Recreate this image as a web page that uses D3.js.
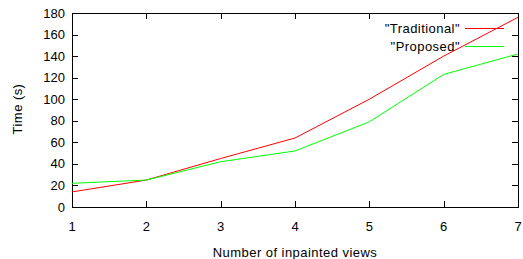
<!DOCTYPE html>
<html><head><meta charset="utf-8">
<script src="https://cdn.jsdelivr.net/npm/d3@7"></script>
<style>body{margin:0;background:#fff}svg{display:block}text{font-family:"Liberation Sans",Arial,sans-serif;font-size:13px;fill:#000}.lab{letter-spacing:0.45px}</style>
</head><body>
<svg id="c" width="523" height="259"></svg>
<script>
const views = [1, 2, 3, 4, 5, 6, 7];
const traditional = [14, 25, 45, 64, 100, 140, 176];
const proposed = [22, 25, 42, 52, 79, 123, 142];
const yTicks = [0, 20, 40, 60, 80, 100, 120, 140, 160, 180];
const seriesNames = ['"Traditional"', '"Proposed"'];
const seriesColors = ["#ff0000", "#00ff00"];

const svg = d3.select("#c");
const L = 72, R = 518, T = 13, B = 207;
const x = d3.scaleLinear().domain([1, 7]).range([L, R]);
const y = d3.scaleLinear().domain([0, 180]).range([B, T]);

svg.append("rect").attr("x", L + 0.5).attr("y", T + 0.5).attr("width", R - L).attr("height", B - T)
  .attr("fill", "none").attr("stroke", "#000").attr("stroke-width", 1);

const tl = 6;
const gy = svg.append("g");
yTicks.forEach(v => {
  const yy = Math.round(y(v)) + 0.5;
  gy.append("line").attr("x1", L).attr("x2", L + tl).attr("y1", yy).attr("y2", yy).attr("stroke", "#000");
  gy.append("line").attr("x1", R).attr("x2", R - tl).attr("y1", yy).attr("y2", yy).attr("stroke", "#000");
  gy.append("text").attr("x", L - 7).attr("y", y(v)).attr("dy", "0.35em").attr("text-anchor", "end").text(v);
});
const gx = svg.append("g");
views.forEach(v => {
  const xx = Math.round(x(v)) + 0.5;
  gx.append("line").attr("x1", xx).attr("x2", xx).attr("y1", B).attr("y2", B - tl).attr("stroke", "#000");
  gx.append("line").attr("x1", xx).attr("x2", xx).attr("y1", T).attr("y2", T + tl).attr("stroke", "#000");
  gx.append("text").attr("x", x(v)).attr("y", 226).attr("dy", "0.35em").attr("text-anchor", "middle").text(v);
});

svg.append("text").attr("class", "lab").attr("x", 295).attr("y", 252).attr("dy", "0.35em").attr("text-anchor", "middle").text("Number of inpainted views");
svg.append("text").attr("class", "lab").attr("transform", `translate(17.5,109) rotate(-90)`).attr("dy", "0.35em").attr("text-anchor", "middle").text("Time (s)");

const line = d3.line().x((d, i) => x(views[i])).y(d => y(d));
[traditional, proposed].forEach((s, k) => {
  svg.append("path").datum(s).attr("d", line).attr("fill", "none").attr("stroke", seriesColors[k]).attr("stroke-width", 1);
});

seriesNames.forEach((n, k) => {
  const ly = 28 + k * 18;
  svg.append("text").attr("class", "lab").attr("x", 460).attr("y", ly).attr("dy", "0.35em").attr("text-anchor", "end").text(n);
  svg.append("line").attr("x1", 465).attr("x2", 504).attr("y1", ly + 0.5).attr("y2", ly + 0.5).attr("stroke", seriesColors[k]);
});
</script>
</body></html>
